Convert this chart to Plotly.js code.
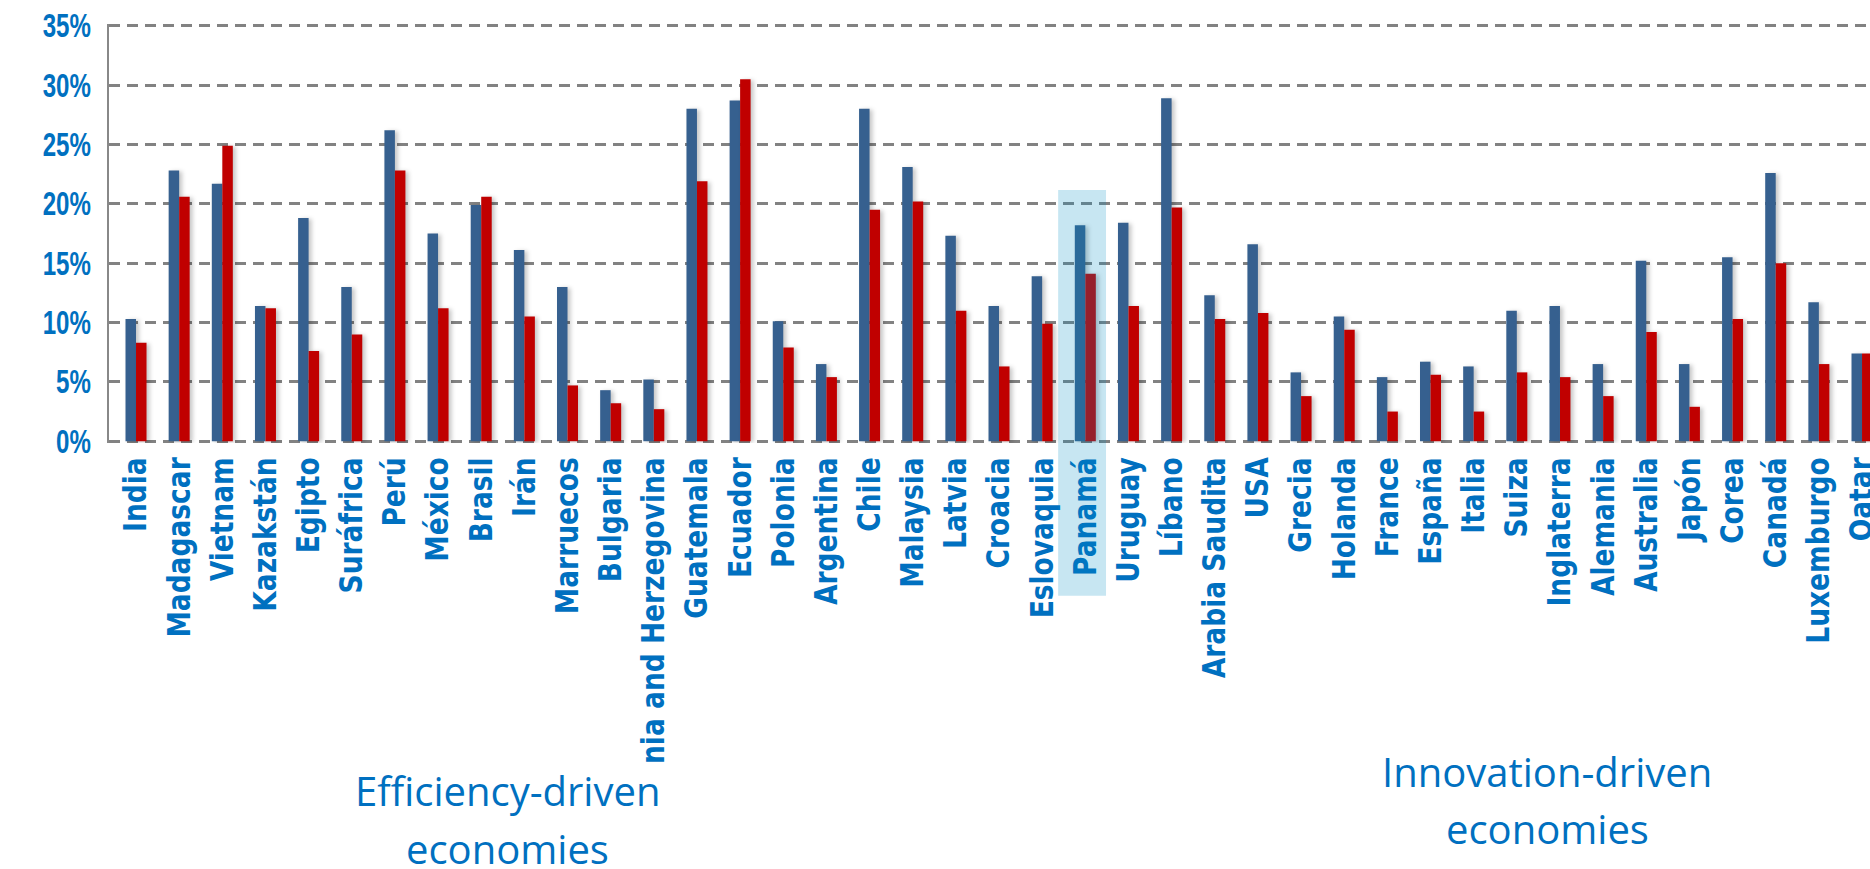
<!DOCTYPE html>
<html>
<head>
<meta charset="utf-8">
<script src="https://cdn.plot.ly/plotly-3.0.1.min.js"></script>
<style>
  html, body { margin: 0; padding: 0; background: #ffffff; }
  #chart { width: 1870px; height: 869px; }
  #chart .bars .point path { filter: drop-shadow(3px 1px 2px rgba(0,0,0,0.22)); }
</style>
</head>
<body>
<div id="chart"></div>
<script>
// ---- data ----
const categories = ["India","Madagascar","Vietnam","Kazakstán","Egipto","Suráfrica","Perú","México","Brasil","Irán",
  "Marruecos","Bulgaria","nia and Herzegovina","Guatemala","Ecuador","Polonia","Argentina","Chile","Malaysia","Latvia",
  "Croacia","Eslovaquia","Panamá","Uruguay","Líbano","Arabia Saudita","USA","Grecia","Holanda","France",
  "España","Italia","Suiza","Inglaterra","Alemania","Australia","Japón","Corea","Canadá","Luxemburgo","Qatar"];
const blueValues = [10.3,22.8,21.7,11.4,18.8,13.0,26.2,17.5,19.9,16.1,
  13.0,4.3,5.2,28.0,28.7,10.1,6.5,28.0,23.1,17.3,
  11.4,13.9,18.2,18.4,28.9,12.3,16.6,5.8,10.5,5.4,
  6.7,6.3,11.0,11.4,6.5,15.2,6.5,15.5,22.6,11.7,7.4];
const redValues = [8.3,20.6,24.9,11.2,7.6,9.0,22.8,11.2,20.6,10.5,
  4.7,3.2,2.7,21.9,30.5,7.9,5.4,19.5,20.2,11.0,
  6.3,9.9,14.1,11.4,19.7,10.3,10.8,3.8,9.4,2.5,
  5.6,2.5,5.8,5.4,3.8,9.2,2.9,10.3,15.0,6.5,7.4];
const yTickValues = [0,5,10,15,20,25,30,35];
const yTickLabels = ["0%","5%","10%","15%","20%","25%","30%","35%"];
const highlightCategory = "Panamá";
const groupLabels = [
  {lines: ["Efficiency-driven", "economies"]},
  {lines: ["Innovation-driven", "economies"]}
];

// ---- layout constants ----
const W = 1870, H = 869;
const M = {l: 109, r: 0, t: 23.5, b: 425.5};
const plotH = H - M.t - M.b;
const xRange = [-0.626, 40.185];
const yRange = [-0.15, 35.15];
const textBlue = "#0070c0";

function paperY(px) { return (H - M.b - px) / plotH; }
function paperX(px) { return (px - M.l) / (W - M.l - M.r); }

const traces = [
  {type: "bar", x: categories, y: blueValues, marker: {color: "#36608f"}, hoverinfo: "skip"},
  {type: "bar", x: categories, y: redValues, marker: {color: "#c00000"}, hoverinfo: "skip"}
];

const hi = categories.indexOf(highlightCategory);

const annPos = [
  {x: 507.5, y: [791.5, 849.5]},
  {x: 1547, y: [772.5, 829.5]}
];
const annotations = [];
groupLabels.forEach((g, gi) => {
  g.lines.forEach((ln, li) => {
    annotations.push({
      xref: "paper", yref: "paper",
      x: paperX(annPos[gi].x), y: paperY(annPos[gi].y[li]),
      xanchor: "center", yanchor: "middle",
      text: ln, showarrow: false,
      font: {family: "Open Sans, Noto Sans, sans-serif", size: 40, color: textBlue}
    });
  });
});

const layout = {
  width: W, height: H,
  margin: M,
  paper_bgcolor: "#ffffff", plot_bgcolor: "#ffffff",
  showlegend: false,
  barmode: "group", bargap: 0.513, bargroupgap: 0,
  xaxis: {
    type: "category", range: xRange,
    tickangle: -90, ticks: "", showgrid: false, zeroline: false, showline: false,
    tickfont: {family: "DejaVu Sans, Verdana, sans-serif", size: 26.5, color: textBlue, weight: "bold"},
    ticklabelstandoff: 8
  },
  yaxis: {
    range: yRange, tickmode: "array", tickvals: yTickValues, ticktext: yTickLabels,
    showgrid: true, gridcolor: "#828282", gridwidth: 3, griddash: "11px,7px",
    zeroline: false, showline: true, linecolor: "#888888", linewidth: 2.5,
    ticks: "", ticklabelstandoff: 9,
    tickfont: {family: "Liberation Sans, Arial, sans-serif", size: 33, color: textBlue, weight: "bold"}
  },
  shapes: [{
    type: "rect", layer: "above",
    xref: "x", yref: "paper",
    x0: hi - 0.63, x1: hi + 0.48,
    y0: paperY(596.7), y1: paperY(190),
    fillcolor: "rgba(0,140,195,0.22)", line: {width: 0}
  }],
  annotations: annotations
};

Plotly.newPlot("chart", traces, layout, {displayModeBar: false, staticPlot: true}).then(() => {
  // the reference's label glyphs look condensed: taller relative to their advance
  const SX = 1.19;   // rotated category labels: stretch glyph height
  document.querySelectorAll("#chart .xtick text").forEach(t => {
    try {
      const bb = t.getBBox();
      const cy = bb.y + bb.height / 2;
      const tr = t.getAttribute("transform") || "";
      t.setAttribute("transform", tr + " translate(0," + cy + ") scale(1," + SX + ") translate(0," + (-cy) + ")");
    } catch (e) {}
  });
  const SY = 0.73;   // percent labels: narrow the advance, keep right edge
  document.querySelectorAll("#chart .ytick text").forEach(t => {
    try {
      const bb = t.getBBox();
      const rx = bb.x + bb.width;
      const tr = t.getAttribute("transform") || "";
      t.setAttribute("transform", tr + " translate(" + rx + ",0) scale(" + SY + ",1) translate(" + (-rx) + ",0)");
    } catch (e) {}
  });
});
</script>
</body>
</html>
